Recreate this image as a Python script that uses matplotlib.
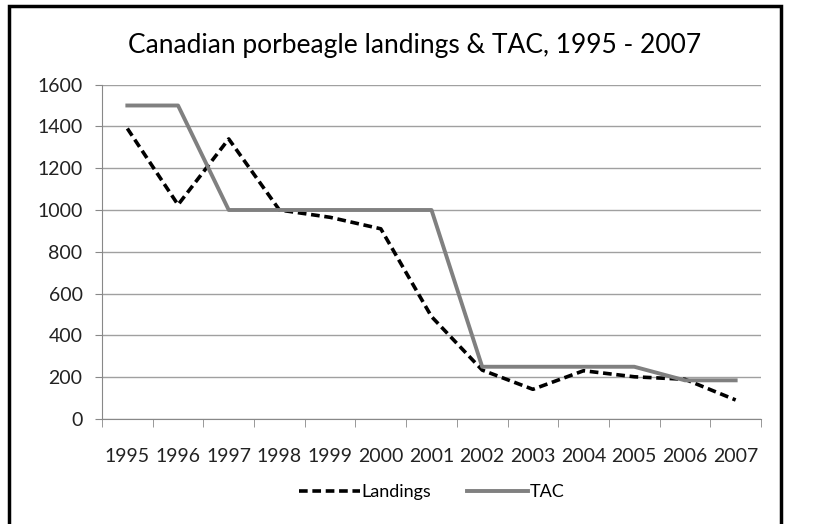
import matplotlib.pyplot as plt
import numpy as np
from matplotlib.patches import Rectangle

# years and values
years = ['1995', '1996', '1997', '1998', '1999', '2000', '2001',
         '2002', '2003', '2004', '2005', '2006', '2007']
landings = [1390, 1025, 1340, 1000, 965, 910, 490, 234, 142, 231, 202, 190, 91]
tac = [1500, 1500, 1000, 1000, 1000, 1000, 1000, 250, 250, 250, 250, 185, 185]

plt.rcParams['font.family'] = ['Lato', 'DejaVu Sans']

fig = plt.figure(figsize=(8.13, 5.24), dpi=100)
ax = fig.add_axes([102/813, 1 - 419/524, (761 - 102)/813, (419 - 84.6)/524])

x = np.arange(len(years))
ax.plot(x, landings, color='black', linewidth=2.6, linestyle=(0, (2.4, 1.3)), label='Landings')
ax.plot(x, tac, color='#808080', linewidth=2.8, label='TAC')

ax.set_xlim(-0.5, len(years) - 0.5)
ax.set_ylim(0, 1600)
ax.set_yticks(range(0, 1601, 200))
ax.set_xticks(x)
ax.set_xticklabels(years)
ax.set_xticks(np.arange(-0.5, len(years), 1), minor=True)
ax.tick_params(axis='x', which='major', length=0, pad=21, labelsize=14, colors='#222222')
ax.tick_params(axis='x', which='minor', length=6, color='#888888', direction='out')
ax.tick_params(axis='y', length=5, pad=9, labelsize=14, colors='#222222')
ax.tick_params(axis='y', color='#888888')

ax.grid(True, axis='y', color='#a0a0a0', linewidth=1)
ax.set_axisbelow(True)
for s in ['top', 'right']:
    ax.spines[s].set_visible(False)
for s in ['left', 'bottom']:
    ax.spines[s].set_color('#888888')

fig.text(0.51, 1 - 45/524, 'Canadian porbeagle landings & TAC, 1995 - 2007',
         ha='center', va='center', fontsize=19, color='black')

ax.legend(loc='center', bbox_to_anchor=(0.5, (419 - 492)/(419 - 84.6)), ncol=2,
          frameon=False, fontsize=13, handlelength=3.4, columnspacing=2.0, handletextpad=0.05)

# outer chart border
fig.patches.append(Rectangle((9/813, -0.1), (781 - 9)/813, 1.1 - 6/524, transform=fig.transFigure,
                             fill=False, edgecolor='black', linewidth=2.5))

fig.savefig('out.png', dpi=100)
